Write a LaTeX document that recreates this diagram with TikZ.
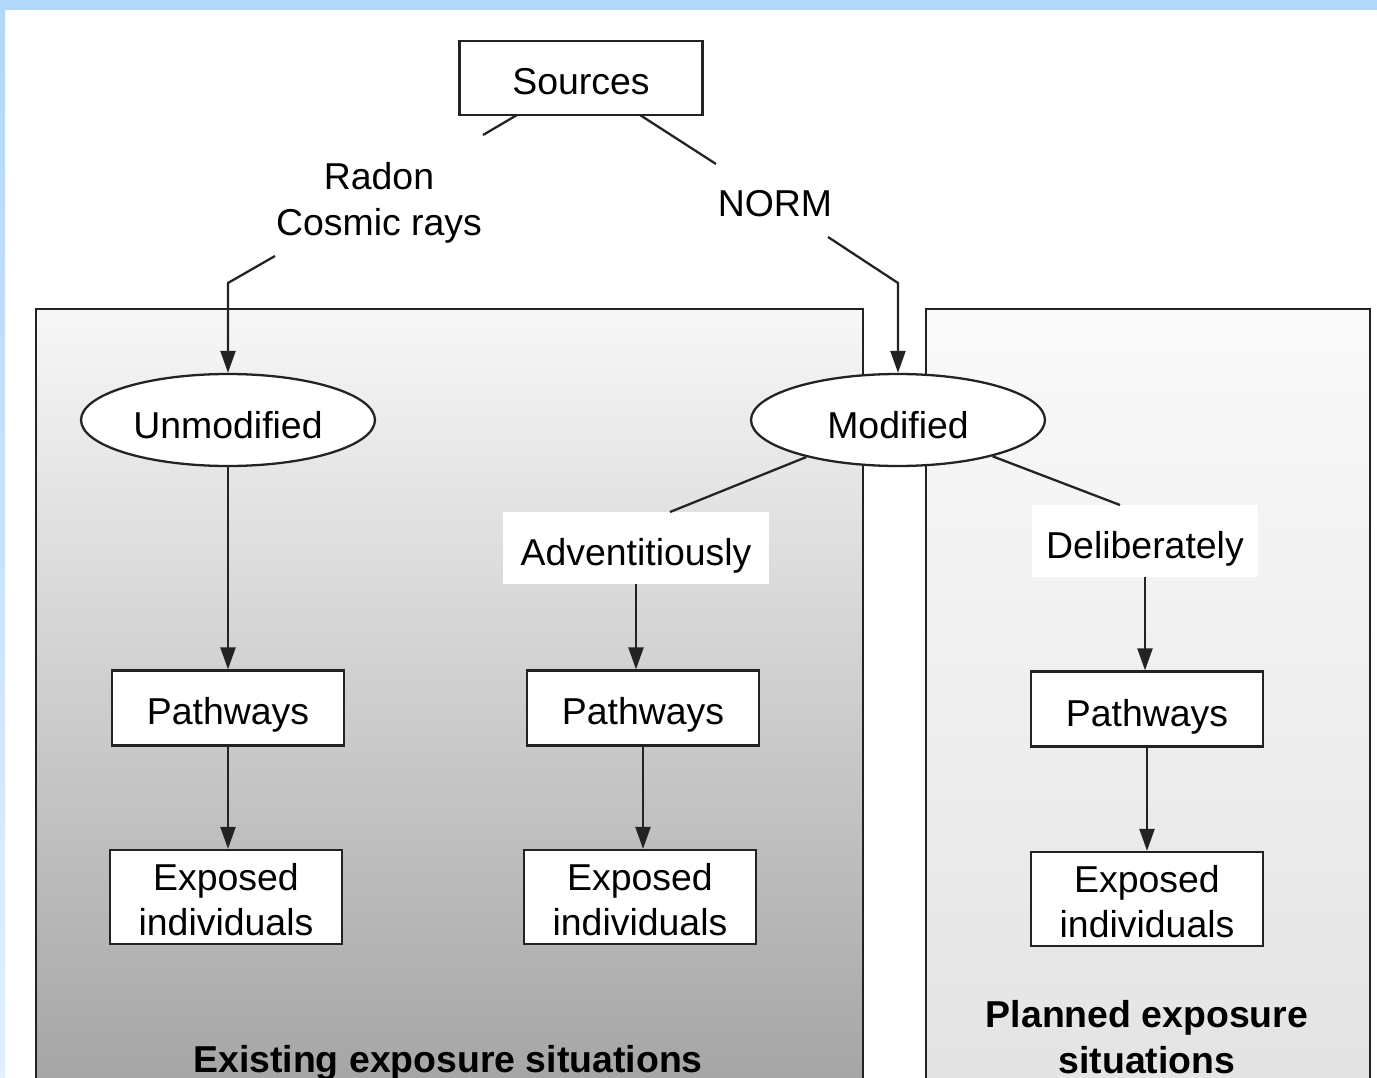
\documentclass[tikz,border=0pt]{standalone}
\usepackage{fontspec}
\setmainfont{Liberation Sans}
\usetikzlibrary{shapes.geometric,arrows.meta}
\definecolor{framebl}{RGB}{179,215,248}
\definecolor{framelt}{RGB}{226,239,252}
\definecolor{edgegr}{RGB}{35,35,35}
\begin{document}
\begin{tikzpicture}[x=0.02cm, y=-0.02cm,
	every node/.style={font=\fontsize{21.3}{26}\selectfont},
	box/.style={draw=edgegr, line width=1.3pt, fill=white, inner sep=0pt, minimum width=4.64cm, minimum height=1.5cm, align=center, text height=0.68cm, text depth=0pt},
	twoline/.style={minimum height=1.88cm, text height=1.56cm, text depth=0pt},
	oval/.style={ellipse, draw=edgegr, line width=1.3pt, fill=white, inner sep=0pt, minimum width=5.88cm, minimum height=1.84cm, text height=0.76cm, text depth=0pt},
	tag/.style={fill=white, inner sep=0pt, align=center, text height=0.7cm, text depth=0pt},
	panel/.style={draw=edgegr, line width=1.3pt},
	link/.style={edgegr, line width=1.3pt},
	arr/.style={link, -{Triangle[length=0.44cm, width=0.3cm]}},
	title/.style={font=\fontsize{21.3}{26}\selectfont\bfseries, align=center}]
	\useasboundingbox (0,0) rectangle (1377,1078);
	\fill[white] (0,0) rectangle (1377,1078);
	\fill[framebl] (0,0) rectangle (1377,10);
	\shade[top color=framebl, bottom color=framelt] (0,10) rectangle (5,1078);
	\shadedraw[panel, top color=black!3, bottom color=black!36] (36,309) rectangle (863,1100);
	\shadedraw[panel, top color=black!2, bottom color=black!11] (926,309) rectangle (1370,1100);
	\node[box, minimum width=4.86cm, minimum height=1.48cm] (src) at (581,78) {Sources};
	\node[align=center] (rad) at (379,203) {Radon\\Cosmic rays};
	\node (norm) at (775,204) {NORM};
	\node[oval] (unmod) at (228,420) {Unmodified};
	\node[oval] (mod) at (898,420) {Modified};
	\node[tag, minimum width=5.32cm, minimum height=1.44cm] (adv) at (636,548) {Adventitiously};
	\node[tag, minimum width=4.52cm, minimum height=1.44cm] (delib) at (1145,541) {Deliberately};
	\node[box] (path1) at (228,708) {Pathways};
	\node[box] (path2) at (643,708) {Pathways};
	\node[box] (path3) at (1147,709) {Pathways};
	\node[box, twoline] (expo1) at (226,897) {Exposed\\individuals};
	\node[box, twoline] (expo2) at (640,897) {Exposed\\individuals};
	\node[box, twoline] (expo3) at (1147,899) {Exposed\\individuals};
	\node[title] (plan) at (1147,1037) {Planned exposure\\situations};
	\node[title] (exist) at (448,1063) {Existing exposure situations};
	\coordinate (s1) at (517,115);
	\coordinate (r1) at (483,135);
	\coordinate (r2) at (275,256);
	\coordinate (b1) at (228,283);
	\coordinate (s2) at (640,115);
	\coordinate (n1) at (716,164);
	\coordinate (n2) at (828,237);
	\coordinate (b2) at (898,283);
	\coordinate (a1) at (670,512);
	\coordinate (d1) at (1120,505);
	\draw[link] (s1) -- (r1);
	\draw[arr] (r2) -- (b1) -- (unmod);
	\draw[link] (s2) -- (n1);
	\draw[arr] (n2) -- (b2) -- (mod);
	\draw[link] (mod.202) -- (a1);
	\draw[link] (mod.-21) -- (d1);
	\draw[arr] (unmod) -- (unmod |- path1.north);
	\draw[arr] (path1) -- (path1 |- expo1.north);
	\draw[arr] (adv) -- (adv |- path2.north);
	\draw[arr] (path2) -- (path2 |- expo2.north);
	\draw[arr] (delib) -- (delib |- path3.north);
	\draw[arr] (path3) -- (path3 |- expo3.north);
\end{tikzpicture}
\end{document}
